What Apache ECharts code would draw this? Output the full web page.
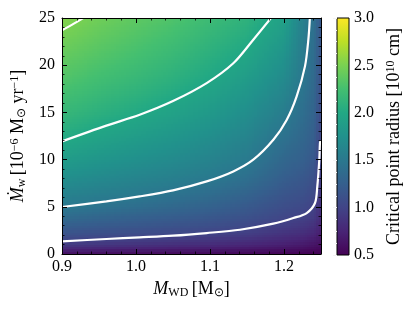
<!DOCTYPE html>
<html><head><meta charset="utf-8">
<script src="https://cdn.jsdelivr.net/npm/echarts@6/dist/echarts.min.js"></script>
<style>html,body{margin:0;padding:0;background:#fff}#c{width:415px;height:312px}</style>
</head><body><div id="c"></div>
<script>
// ---- data ----
const mwdNodes = [0.9, 0.95, 1.0, 1.05, 1.1, 1.15, 1.2, 1.225, 1.24, 1.25];
const mdotNodes = [0, 1, 2, 3, 4, 5, 6, 8, 10, 12, 15, 18, 21, 25];
// critical point radius [1e10 cm] along mdotNodes, one array per M_WD column
const r_090 = [0.60,0.93,1.12,1.25,1.39,1.50,1.58,1.73,1.87,2.00,2.16,2.29,2.40,2.54];
const r_095 = [0.58,0.90,1.08,1.21,1.33,1.45,1.53,1.67,1.80,1.92,2.08,2.21,2.32,2.45];
const r_100 = [0.57,0.87,1.05,1.18,1.28,1.40,1.49,1.62,1.74,1.85,2.01,2.14,2.25,2.37];
const r_105 = [0.56,0.84,1.02,1.14,1.24,1.34,1.43,1.57,1.68,1.78,1.93,2.06,2.17,2.30];
const r_110 = [0.55,0.81,0.98,1.10,1.19,1.28,1.36,1.51,1.61,1.70,1.84,1.97,2.07,2.20];
const r_115 = [0.54,0.77,0.94,1.04,1.13,1.20,1.27,1.41,1.52,1.60,1.72,1.84,1.97,2.10];
const r_120 = [0.52,0.72,0.85,0.96,1.03,1.09,1.14,1.24,1.33,1.42,1.55,1.66,1.77,1.92];
const r_1225 = [0.51,0.68,0.81,0.91,0.99,1.05,1.10,1.18,1.26,1.32,1.40,1.48,1.53,1.58];
const r_124 = [0.50,0.64,0.76,0.86,0.94,0.99,1.04,1.12,1.19,1.24,1.30,1.35,1.39,1.43];
const r_125 = [0.50,0.60,0.68,0.74,0.79,0.83,0.86,0.92,0.97,1.00,1.05,1.09,1.12,1.16];
const radiusColumns = [r_090, r_095, r_100, r_105, r_110, r_115, r_120, r_1225, r_124, r_125];

// white contour lines (levels 1.0, 1.5, 2.0, 2.5)
const contour10 = [[0.9,1.34],[0.96,1.59],[1.005,1.76],[1.05,1.94],[1.0955,2.22],[1.1405,2.57],[1.1856,3.21],[1.2126,3.81],[1.2307,4.34],[1.2419,5.4],[1.245,7.16],[1.2477,9.99],[1.2486,11.76],[1.2495,12.0]];
const contour15 = [[0.9,4.98],[0.96,5.57],[1.005,6.1],[1.05,6.74],[1.0955,7.69],[1.1315,8.75],[1.1585,9.99],[1.1856,12.1],[1.2036,14.2],[1.2171,16.7],[1.2284,19.9],[1.2329,22.7],[1.2351,25.2]];
const contour20 = [[0.9,11.93],[0.96,13.6],[1.005,14.75],[1.05,16.2],[1.0955,18.1],[1.1315,20.2],[1.1585,22.7],[1.1845,25.2]];
const contour25 = [[0.9,23.7],[0.916,24.4],[0.933,25.2]];

const xTicks = [0.9, 1.0, 1.1, 1.2];
const yTicks = [0, 5, 10, 15, 20, 25];
const cbTicks = [0.5, 1.0, 1.5, 2.0, 2.5, 3.0];

// ---- rendering ----
const VIR = ['#440154','#482475','#414487','#355f8d','#2a788e','#21918c','#22a884','#44bf70','#7ad151','#bddf26','#fde725'];
const VMIN = 0.5, VMAX = 3.0;
function hex2rgb(h){return [parseInt(h.substr(1,2),16),parseInt(h.substr(3,2),16),parseInt(h.substr(5,2),16)];}
const VIRRGB = VIR.map(hex2rgb);
function cmap(v){
  let t = (v - VMIN) / (VMAX - VMIN); t = Math.max(0, Math.min(1, t));
  const s = t * (VIRRGB.length - 1); const k = Math.min(VIRRGB.length - 2, Math.floor(s)); const f = s - k;
  const a = VIRRGB[k], b = VIRRGB[k+1];
  return 'rgb(' + Math.round(a[0]+(b[0]-a[0])*f) + ',' + Math.round(a[1]+(b[1]-a[1])*f) + ',' + Math.round(a[2]+(b[2]-a[2])*f) + ')';
}

const cells = [];
for (let i = 0; i < mwdNodes.length - 1; i++) {
  for (let j = 0; j < mdotNodes.length - 1; j++) {
    cells.push([mwdNodes[i], mdotNodes[j], mwdNodes[i+1], mdotNodes[j+1],
      radiusColumns[i][j], radiusColumns[i+1][j], radiusColumns[i][j+1], radiusColumns[i+1][j+1]]);
  }
}

function renderCell(params, api) {
  const x0 = api.value(0), y0 = api.value(1), x1 = api.value(2), y1 = api.value(3);
  const v00 = api.value(4), v10 = api.value(5), v01 = api.value(6), v11 = api.value(7);
  const p0 = api.coord([x0, y0]), p1 = api.coord([x1, y1]);
  const W = p1[0] - p0[0], H = p0[1] - p1[1];
  const nx = Math.max(1, Math.ceil(W / 2.5)), ny = Math.max(1, Math.ceil(H / 2.5));
  const children = [];
  for (let a = 0; a < nx; a++) {
    const xs = Math.round(p0[0] + W * a / nx), xe = Math.round(p0[0] + W * (a + 1) / nx);
    if (xe <= xs) continue;
    const u = (a + 0.5) / nx;
    for (let b = 0; b < ny; b++) {
      const yb = Math.round(p0[1] - H * b / ny), yt = Math.round(p0[1] - H * (b + 1) / ny);
      if (yb <= yt) continue;
      const w = (b + 0.5) / ny;
      const v = v00*(1-u)*(1-w) + v10*u*(1-w) + v01*(1-u)*w + v11*u*w;
      children.push({type:'rect', shape:{x:xs, y:yt, width:xe-xs, height:yb-yt}, style:{fill:cmap(v)}});
    }
  }
  return {type:'group', children: children};
}

function renderBar(params, api) {
  const pb = api.coord([0, VMIN]), pt = api.coord([1, VMAX]);
  const stops = VIR.map((c, k) => ({offset: k / (VIR.length - 1), color: c}));
  return {type:'rect', shape:{x: pb[0], y: pt[1], width: pt[0]-pb[0], height: pb[1]-pt[1]},
    style:{fill: new echarts.graphic.LinearGradient(0, 1, 0, 0, stops), stroke:'#000', lineWidth:1}};
}

const FONT = 'Liberation Serif';
const TS = 18;
const rich = {
  i: {fontFamily: FONT, fontStyle: 'italic', fontSize: TS, color:'#000'},
  n: {fontFamily: FONT, fontSize: TS, color:'#000'},
  sub: {fontFamily: FONT, fontSize: 12, color:'#000', verticalAlign:'bottom', padding:[7,0,0,0]},
  sup: {fontFamily: FONT, fontSize: 12, color:'#000', verticalAlign:'top', padding:[0,0,7,0]}
};
const tickFmt = v => (Math.abs(v) < 1e-9 ? '0' : v.toFixed(1));
const frameLine = {show:true, lineStyle:{color:'#000', width:1}};
const majorTick = {show:true, inside:true, length:5, lineStyle:{color:'#000', width:1}};
const minorTickX = {show:true, inside:true, length:2.5, lineStyle:{color:'#000', width:0.8}};
const LS = 16;

const chart = echarts.init(document.getElementById('c'), null, {renderer:'canvas'});
chart.setOption({
  animation: false,
  backgroundColor: '#fff',
  grid: [
    {left: 62, top: 18, width: 259, height: 236},
    {left: 337, top: 18, width: 12, height: 237}
  ],
  xAxis: [
    {gridIndex:0, type:'value', min:0.9, max:1.25, interval:0.1, position:'bottom', z:10,
      axisLine: frameLine, axisTick: majorTick, splitLine:{show:false},
      axisLabel:{margin:5, fontFamily:FONT, fontSize:LS, color:'#000', formatter: tickFmt, showMaxLabel:false},
      name:'{i|M}{sub|WD} {n|[M}{sub|⊙}{n|]}', nameLocation:'middle', nameGap:26,
      nameTextStyle:{rich: rich}},
    {gridIndex:0, type:'value', min:0.9, max:1.25, interval:0.02, position:'bottom', z:10,
      axisLine:{show:false}, axisTick: minorTickX, axisLabel:{show:false}, splitLine:{show:false}},
    {gridIndex:0, type:'value', min:0.9, max:1.25, interval:0.1, position:'top', z:10,
      axisLine: frameLine, axisTick: majorTick, axisLabel:{show:false}, splitLine:{show:false}},
    {gridIndex:0, type:'value', min:0.9, max:1.25, interval:0.02, position:'top', z:10,
      axisLine:{show:false}, axisTick: minorTickX, axisLabel:{show:false}, splitLine:{show:false}},
    {gridIndex:1, type:'value', min:0, max:1, show:false}
  ],
  yAxis: [
    {gridIndex:0, type:'value', min:0, max:25, interval:5, position:'left', z:10,
      axisLine: frameLine, axisTick: majorTick, splitLine:{show:false},
      minorTick:{show:true, splitNumber:5, length:2.5, lineStyle:{color:'#000', width:0.8}},
      axisLabel:{margin:7, fontFamily:FONT, fontSize:LS, color:'#000'},
      name:'{i|Ṁ}{sub|w} {n|[10}{sup|−6}{n| M}{sub|⊙}{n| yr}{sup|−1}{n|]}', nameLocation:'middle', nameGap:26, nameRotate:90,
      nameTextStyle:{rich: rich}},
    {gridIndex:0, type:'value', min:0, max:25, interval:5, position:'right', z:10,
      axisLine: frameLine, axisTick: majorTick, splitLine:{show:false},
      minorTick:{show:true, splitNumber:5, length:2.5, lineStyle:{color:'#000', width:0.8}},
      axisLabel:{show:false}},
    {gridIndex:1, type:'value', min:0.5, max:3.0, interval:0.5, position:'right', z:10,
      axisLine:{show:false}, splitLine:{show:false},
      axisTick:{show:true, inside:true, length:4, lineStyle:{color:'#f4f4f4', width:1}},
      minorTick:{show:true, splitNumber:4, length:2.5, lineStyle:{color:'#f4f4f4', width:1}},
      axisLabel:{margin:5, fontFamily:FONT, fontSize:LS, color:'#000', formatter: v => v.toFixed(1)},
      name:'{n|Critical point radius [10}{sup|10}{n| cm]}', nameLocation:'middle', nameGap:36, nameRotate:90,
      nameTextStyle:{rich: rich}}
  ],
  series: [
    {type:'custom', xAxisIndex:0, yAxisIndex:0, renderItem: renderCell, data: cells, silent:true, clip:true,
      encode:{x:[0,2], y:[1,3]}, z:1},
    {type:'custom', xAxisIndex:4, yAxisIndex:2, renderItem: renderBar, data:[[0, VMIN, 1, VMAX]], silent:true, z:1,
      encode:{x:[0,2], y:[1,3]}},
    ...[contour10, contour15, contour20, contour25].map(d => ({
      type:'line', xAxisIndex:0, yAxisIndex:0, data:d, symbol:'none', smooth:0.3, clip:true, silent:true, z:5,
      lineStyle:{color:'#fff', width:2.2}
    }))
  ]
});
</script>
</body></html>
